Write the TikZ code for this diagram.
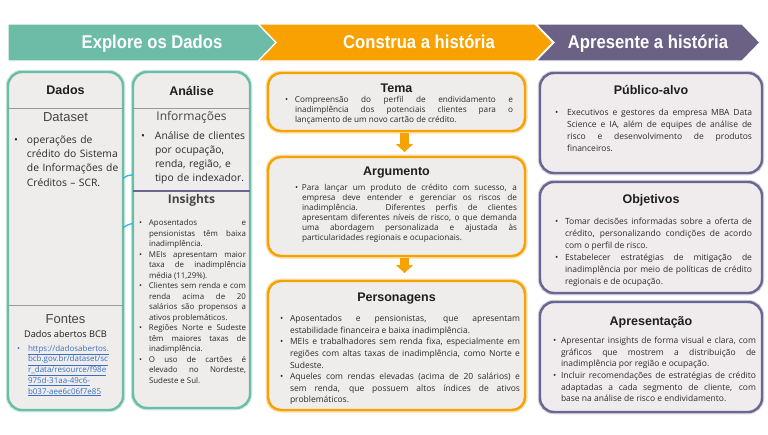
\documentclass[tikz,border=0pt]{standalone}
\usepackage{fontspec}
\setmainfont{Open Sans}
\newfontfamily\headfont{Liberation Sans}
\newfontfamily\bannerfont[FakeStretch=0.9]{Liberation Sans}
\usetikzlibrary{positioning, arrows.meta}

\definecolor{tealband}{HTML}{6DBCA8}
\definecolor{orangeband}{HTML}{F9A100}
\definecolor{purpleband}{HTML}{6B6185}
\definecolor{tealline}{HTML}{6BBDA6}
\definecolor{orangeline}{HTML}{F7A203}
\definecolor{purpleline}{HTML}{6C6491}
\definecolor{boxfill}{HTML}{EFEDEB}
\definecolor{boxfillp}{HTML}{F0ECEE}
\definecolor{darktext}{HTML}{1E1E1E}
\definecolor{bodytxt}{HTML}{2B2B2B}
\definecolor{subgray}{HTML}{454545}
\definecolor{rulegray}{HTML}{9A9A9A}
\definecolor{linkblue}{HTML}{3A6FC4}
\definecolor{cyanlink}{HTML}{2BB7E8}

\tolerance=10000
\hbadness=10000
\hyphenpenalty=10000

% bullet paragraph with hanging indent
\newcommand\bitem[2][10pt]{\par\hangindent=#1\hangafter=1\noindent\makebox[#1][l]{\textbullet}#2\par}

\begin{document}
\begin{tikzpicture}[x=1pt, y=-1pt,
    every node/.style={inner sep=0pt, outer sep=0pt},
    tealbox/.style={draw=tealline, line width=2.4pt, fill=boxfill, rounded corners=14pt, anchor=north west,
        preaction={draw=tealline!35, line width=4.5pt}},
    orangebox/.style={draw=orangeline, line width=2.4pt, fill=boxfill, rounded corners=13pt, anchor=north west,
        preaction={draw=orangeline!35, line width=5pt}},
    purplebox/.style={draw=purpleline, line width=2.4pt, fill=boxfillp, rounded corners=14pt, anchor=north west,
        preaction={draw=purpleline!30, line width=4.5pt}},
    bandshape/.style={draw=white, line width=1.2pt},
    bandtext/.style={text=white, anchor=base, font=\bannerfont\bfseries\fontsize{18.5}{20}\selectfont},
    boxtitle/.style={text=darktext, font=\headfont\bfseries\fontsize{12.5}{14}\selectfont},
    subtitle/.style={text=subgray, font=\headfont\fontsize{13}{15}\selectfont},
    bodytext/.style={anchor=north west, align=justify, text=bodytxt},
    downarrow/.style={draw=orangeline, line width=9pt, -{Triangle[width=17pt,length=8pt]}},
    connector/.style={draw=cyanlink, line width=1.3pt}
]
\fill[white] (0,0) rectangle (768,434);
\useasboundingbox (0,0) rectangle (768,434);

% banner
\filldraw[bandshape, fill=purpleband] (536,24) -- (742,24) -- (760,42.5) -- (742,61) -- (536,61) -- (554,42.5) -- cycle;
\filldraw[bandshape, fill=orangeband] (258,24) -- (535,24) -- (553,42.5) -- (535,61) -- (258,61) -- (276,42.5) -- cycle;
\filldraw[bandshape, fill=tealband] (8,24) -- (258,24) -- (276,42.5) -- (258,61) -- (8,61) -- cycle;
\node[bandtext] (explore) at (152,48.5) {Explore os Dados};
\node[bandtext] (construa) at (419,48.5) {Construa a história};
\node[bandtext] (apresente) at (648,48.5) {Apresente a história};

% Explore os Dados
\node[tealbox, minimum width=115pt, minimum height=338pt] (dados) at (8,72) {};
\node[tealbox, minimum width=117pt, minimum height=336pt] (analise) at (133,72) {};

\node[boxtitle] (dadostitle) at (dados.north |- 0,90) {Dados};
\draw[rulegray, line width=0.8pt] (dados.west |- 0,108) -- (dados.east |- 0,108);
\node[subtitle] (dataset) at (dados.north |- 0,117) {Dataset};
\node[bodytext, align=left, text width=106pt, font=\fontsize{10.3}{14.3}\selectfont] (datasettext) at (14,129)
    {\bitem[13pt]{operações de\newline crédito do Sistema\newline de Informações de\newline Créditos – SCR.}};
\draw[rulegray, line width=0.8pt] (dados.west |- 0,305) -- (dados.east |- 0,305);
\node[subtitle] (fontes) at (dados.north |- 0,319) {Fontes};
\node[text=darktext, font=\fontsize{9.2}{11}\selectfont] (bcb) at (dados.north |- 0,334) {Dados abertos BCB};
\node[bodytext, align=left, text width=100pt, text=linkblue, font=\fontsize{8}{10.7}\selectfont] (fonteslink) at (17,340.5)
    {\bitem[11pt]{\underline{https://dadosabertos.}\newline \underline{bcb.gov.br/dataset/sc}\newline
     \underline{r\_data/resource/f98e}\newline \underline{975d-31aa-49c6-}\newline \underline{b037-aee6c06f7e85}}};

\node[boxtitle] (analisetitle) at (analise.north |- 0,91) {Análise};
\draw[rulegray, line width=0.8pt] (analise.west |- 0,108) -- (analise.east |- 0,108);
\node[text=subgray, font=\fontsize{12}{14}\selectfont] (informacoes) at (analise.north |- 0,117) {Informações};
\node[bodytext, align=left, text width=107pt, font=\fontsize{10.3}{13.8}\selectfont] (infotext) at (141,126)
    {\bitem[14pt]{Análise de clientes\newline por ocupação,\newline renda, região, e\newline tipo de indexador.}};
\draw[purpleline, line width=1.6pt] (analise.west |- 0,191) -- (analise.east |- 0,191);
\node[text=subgray, font=\bfseries\fontsize{12}{14}\selectfont] (insights) at (analise.north |- 0,200) {Insights};
\node[bodytext, text width=107pt, font=\fontsize{7.9}{10.5}\selectfont] (insightstext) at (139,215)
    {\bitem{Aposentados e\linebreak pensionistas têm baixa\linebreak inadimplência.}
     \bitem{MEIs apresentam maior\linebreak taxa de inadimplência\linebreak média (11,29\%).}
     \bitem{Clientes sem renda e com\linebreak renda acima de 20\linebreak salários são propensos a\linebreak ativos problemáticos.}
     \bitem{Regiões Norte e Sudeste\linebreak têm maiores taxas de\linebreak inadimplência.}
     \bitem{O uso de cartões é\linebreak elevado no Nordeste,\linebreak Sudeste e Sul.}};

\draw[connector] (dados.east |- 0,178.5) to[bend left=20] (analise.west |- 0,175);
\draw[connector] (dados.east |- 0,228) to[bend left=15] (analise.west |- 0,223.5);

% Construa a historia
\node[orangebox, minimum width=257pt, minimum height=58pt] (tema) at (268,73) {};
\node[orangebox, minimum width=257pt, minimum height=99pt] (argumento) at (268,157) {};
\node[orangebox, minimum width=257pt, minimum height=129pt] (personagens) at (268,281) {};

\node[boxtitle] (tematitle) at (tema.north |- 0,88) {Tema};
\node[bodytext, text width=228pt, font=\fontsize{8.2}{10.3}\selectfont] (tematext) at (285,92)
    {\bitem{Compreensão do perfil de endividamento e\linebreak inadimplência dos potenciais clientes para o\linebreak lançamento de um novo cartão de crédito.}};

\node[boxtitle] (argtitle) at (argumento.north |- 0,173) {Argumento};
\node[bodytext, text width=222pt, font=\fontsize{8.2}{10}\selectfont] (argtext) at (295,180.5)
    {\bitem[7pt]{Para lançar um produto de crédito com sucesso, a\linebreak empresa deve entender e gerenciar os riscos de\linebreak inadimplência. Diferentes perfis de clientes\linebreak apresentam diferentes níveis de risco, o que demanda\linebreak uma abordagem personalizada e ajustada às\linebreak particularidades regionais e ocupacionais.}};

\node[boxtitle] (perstitle) at (personagens.north |- 0,299) {Personagens};
\node[bodytext, text width=240pt, font=\fontsize{8.5}{11.6}\selectfont] (perstext) at (280,310)
    {\bitem{Aposentados e pensionistas, que apresentam\linebreak estabilidade financeira e baixa inadimplência.}
     \bitem{MEIs e trabalhadores sem renda fixa, especialmente em\linebreak regiões com altas taxas de inadimplência, como Norte e\linebreak Sudeste.}
     \bitem{Aqueles com rendas elevadas (acima de 20 salários) e\linebreak sem renda, que possuem altos índices de ativos\linebreak problemáticos.}};

\draw[downarrow, shorten <=2pt, shorten >=5pt] ([xshift=8pt]tema.south) -- ([xshift=8pt]argumento.north);
\draw[downarrow, shorten <=2pt, shorten >=8pt] ([xshift=8pt]argumento.south) -- ([xshift=8pt]personagens.north);

% Apresente a historia
\node[purplebox, minimum width=222pt, minimum height=100pt] (publico) at (540,73) {};
\node[purplebox, minimum width=222pt, minimum height=111pt] (objetivos) at (540,182) {};
\node[purplebox, minimum width=222pt, minimum height=110pt] (apresentacao) at (540,302) {};

\node[boxtitle] (pubtitle) at (publico.north |- 0,90) {Público-alvo};
\node[bodytext, text width=197pt, font=\fontsize{8.5}{12.1}\selectfont] (pubtext) at (555,103)
    {\bitem[12pt]{Executivos e gestores da empresa MBA Data\linebreak Science e IA, além de equipes de análise de\linebreak risco e desenvolvimento de produtos\linebreak financeiros.}};

\node[boxtitle] (objtitle) at (objetivos.north |- 0,200) {Objetivos};
\node[bodytext, text width=197pt, font=\fontsize{8.5}{12}\selectfont] (objtext) at (555,212)
    {\bitem{Tomar decisões informadas sobre a oferta de\linebreak crédito, personalizando condições de acordo\linebreak com o perfil de risco.}
     \bitem{Estabelecer estratégias de mitigação de\linebreak inadimplência por meio de políticas de crédito\linebreak regionais e de ocupação.}};

\node[boxtitle] (aprtitle) at (apresentacao.north |- 0,322) {Apresentação};
\node[bodytext, text width=203pt, font=\fontsize{8.5}{11.6}\selectfont] (aprtext) at (553,332)
    {\bitem[8pt]{Apresentar insights de forma visual e clara, com\linebreak gráficos que mostrem a distribuição de\linebreak inadimplência por região e ocupação.}
     \bitem[8pt]{Incluir recomendações de estratégias de crédito\linebreak adaptadas a cada segmento de cliente, com\linebreak base na análise de risco e endividamento.}};
\end{tikzpicture}
\end{document}
